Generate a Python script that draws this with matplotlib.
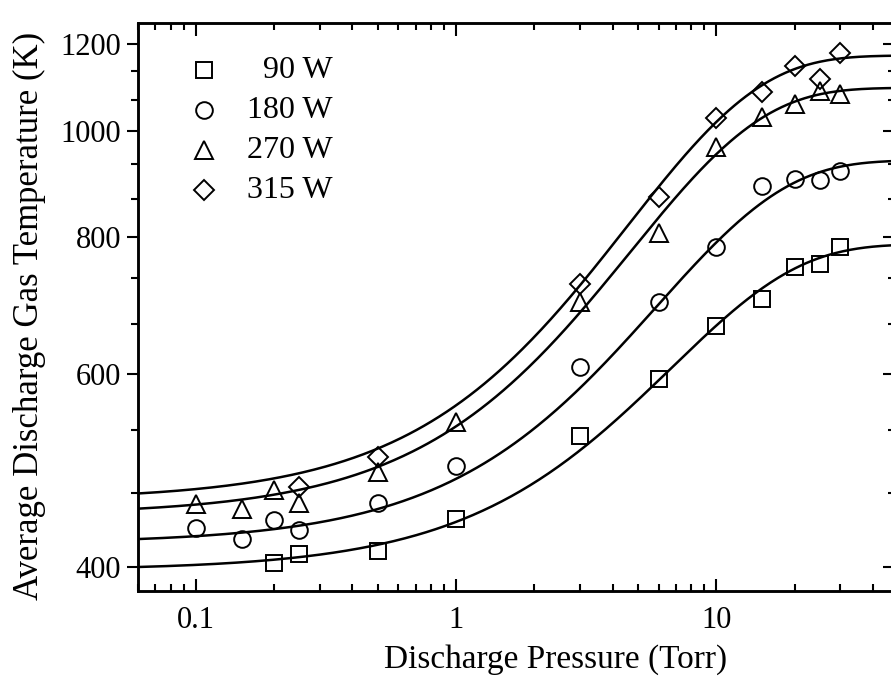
import numpy as np
import matplotlib
matplotlib.use('Agg')
import matplotlib.pyplot as plt
from matplotlib.ticker import FixedLocator, NullFormatter, LogLocator

plt.rcParams['font.family'] = ['Liberation Serif', 'DejaVu Serif']

# pressures (Torr)
p_90 = [0.2, 0.25, 0.5, 1, 3, 6, 10, 15, 20, 25, 30]
t_90 = [403, 411, 413, 442, 527, 594, 664, 702, 751, 756, 784]

p_180 = [0.1, 0.15, 0.2, 0.25, 0.5, 1, 3, 6, 10, 15, 20, 25, 30]
t_180 = [434, 424, 441, 432, 457, 494, 609, 698, 784, 891, 904, 903, 919]

p_270 = [0.1, 0.15, 0.2, 0.25, 0.5, 1, 3, 6, 10, 15, 20, 25, 30]
t_270 = [456, 452, 470, 457, 488, 542, 698, 807, 966, 1030, 1058, 1088, 1081]

p_315 = [0.25, 0.5, 3, 6, 10, 15, 20, 25, 30]
t_315 = [473, 504, 725, 870, 1028, 1085, 1146, 1115, 1178]

labels = ['90 W', '180 W', '270 W', '315 W']
markers = ['s', 'o', '^', 'D']
msizes = [11, 12, 12.5, 10]

# fitted curves: T = Tlow + (Thigh - Tlow) * (1 - exp(-P / Pc))
fit_tlow = [397, 420, 446, 460]
fit_thigh = [788, 940, 1095, 1172]
fit_pc = [8.7, 8.0, 6.6, 6.5]

fig = plt.figure(figsize=(8.91, 6.85), dpi=100)
ax = fig.add_axes([0.1549, 0.1372, 0.848, 0.8292])

pp = np.logspace(np.log10(0.06), np.log10(48), 400)
for lo, hi, pc in zip(fit_tlow, fit_thigh, fit_pc):
    ax.plot(pp, lo + (hi - lo) * (1 - np.exp(-pp / pc)), color='black', lw=1.8, zorder=2)

series = [(p_90, t_90), (p_180, t_180), (p_270, t_270), (p_315, t_315)]
for (p, t), m, ms in zip(series, markers, msizes):
    ax.plot(p, t, linestyle='none', marker=m, ms=ms, mfc='none', mec='black', mew=1.4, zorder=3)

ax.set_xscale('log')
ax.set_yscale('log')
ax.set_xlim(0.06, 48)
ax.set_ylim(380, 1255)

ax.xaxis.set_major_locator(FixedLocator([0.1, 1, 10]))
ax.set_xticklabels(['0.1', '1', '10'])
ax.xaxis.set_minor_locator(LogLocator(base=10, subs=np.arange(2, 10)))
ax.xaxis.set_minor_formatter(NullFormatter())

yt = [400, 600, 800, 1000, 1200]
yminor = [400 + 200 * k / 3 for k in range(1, 13) if k % 3 != 0]
ax.yaxis.set_major_locator(FixedLocator(yt))
ax.set_yticklabels([str(v) for v in yt])
ax.yaxis.set_minor_locator(FixedLocator(yminor))
ax.yaxis.set_minor_formatter(NullFormatter())

ax.tick_params(axis='x', which='both', direction='in', top=True, labelsize=22, width=1.5, pad=11)
ax.tick_params(axis='x', which='major', length=9)
ax.tick_params(axis='x', which='minor', length=5)
ax.tick_params(axis='y', which='both', direction='out', right=False, labelsize=22, width=1.5, pad=4)
ax.tick_params(axis='y', which='major', length=8)
ax.tick_params(axis='y', which='minor', length=5)

ax2 = ax.twinx()
ax2.set_yscale('log')
ax2.set_ylim(ax.get_ylim())
ax2.yaxis.set_major_locator(FixedLocator(yt))
ax2.yaxis.set_minor_locator(FixedLocator(yminor))
ax2.yaxis.set_major_formatter(NullFormatter())
ax2.yaxis.set_minor_formatter(NullFormatter())
ax2.tick_params(axis='y', which='both', direction='in', width=1.5)
ax2.tick_params(axis='y', which='major', length=8)
ax2.tick_params(axis='y', which='minor', length=4)

for a in (ax, ax2):
    for s in a.spines.values():
        s.set_linewidth(1.8)

ax.set_xlabel('Discharge Pressure (Torr)', fontsize=24)
ax.xaxis.set_label_coords(0.553, -0.093)
ax.set_ylabel('Average Discharge Gas Temperature (K)', fontsize=25)
ax.yaxis.set_label_coords(-0.122, 0.485)

# legend drawn by hand so the labels can be right aligned
for i, (lab, m, ms) in enumerate(zip(labels, markers, msizes)):
    yy = 0.917 - i * 0.0704
    ax.plot([0.087], [yy], transform=ax.transAxes, linestyle='none', marker=m, ms=ms,
            mfc='none', mec='black', mew=1.4, clip_on=False)
    ax.text(0.258, yy, lab, transform=ax.transAxes, ha='right', va='center', fontsize=23)

fig.savefig('out.png', dpi=100)
